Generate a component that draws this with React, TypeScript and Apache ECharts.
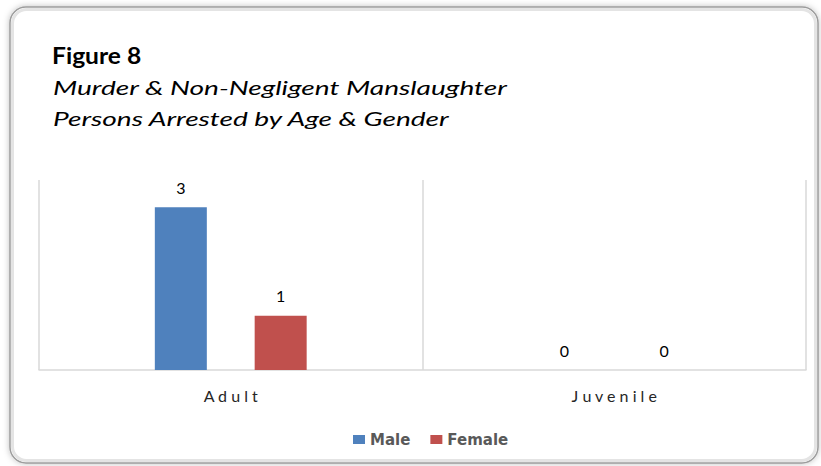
import React, { useEffect, useRef } from "react";
import * as echarts from "echarts";

const categories = ["Adult", "Juvenile"];
const maleValues = [3, 0];
const femaleValues = [1, 0];
const seriesNames = ["Male", "Female"];
const titleText = "Figure 8";
const subtitleLines = ["Murder & Non-Negligent Manslaughter", "Persons Arrested by Age & Gender"];

export default function App() {
  const ref = useRef<HTMLDivElement>(null);
  useEffect(() => {
    if (!ref.current) return;
    const chart = echarts.init(ref.current, null, { renderer: "svg" });
    const font = "Lato, 'Open Sans', sans-serif";
    const subStyle = {
      fontFamily: font,
      fontStyle: "italic",
      fontSize: 20,
      fill: "#000000",
    };
    chart.setOption({
      animation: false,
      backgroundColor: "#ffffff",
      graphic: [
        {
          type: "rect",
          z: -10,
          shape: { x: 10, y: 7, width: 808, height: 456, r: 16 },
          style: {
            fill: "#ffffff",
            stroke: "#9c9c9c",
            lineWidth: 1.5,
            shadowBlur: 6,
            shadowColor: "rgba(0,0,0,0.25)",
          },
        },
        {
          type: "rect",
          z: -9,
          shape: { x: 12.5, y: 9.5, width: 803, height: 451, r: 14 },
          style: { fill: "none", stroke: "#e4e4e4", lineWidth: 3 },
        },
        {
          type: "text",
          x: 52,
          y: 43,
          scaleX: 1.07,
          style: {
            text: titleText,
            fontFamily: font,
            fontWeight: "bold",
            fontSize: 23,
            fill: "#000000",
          },
        },
        {
          type: "text",
          x: 53,
          y: 77.5,
          scaleX: 1.405,
          style: { ...subStyle, text: subtitleLines[0] },
        },
        {
          type: "text",
          x: 53,
          y: 108.5,
          scaleX: 1.405,
          style: { ...subStyle, text: subtitleLines[1] },
        },
      ],
      legend: {
        data: seriesNames,
        top: 427,
        left: 348,
        icon: "rect",
        itemWidth: 12,
        itemHeight: 9,
        itemGap: 20,
        textStyle: { fontFamily: "'DejaVu Sans', sans-serif", fontWeight: "bold", fontSize: 15, color: "#595959" },
      },
      grid: { left: 39, right: 15, top: 180, bottom: 96, containLabel: false },
      xAxis: {
        type: "category",
        data: categories,
        axisLine: { lineStyle: { color: "#d9d9d9", width: 1.5 } },
        axisTick: { show: false },
        splitLine: { show: true, interval: 0, lineStyle: { color: "#d9d9d9", width: 1.5 } },
        axisLabel: {
          fontFamily: font,
          fontSize: 16,
          color: "#262626",
          margin: 17,
          formatter: (v: string) => v.split("").join(" "),
        },
      },
      yAxis: {
        type: "value",
        min: 0,
        max: 3.5,
        interval: 0.5,
        show: false,
        splitLine: { show: false },
      },
      series: [
        {
          name: seriesNames[0],
          type: "bar",
          data: maleValues,
          barWidth: 52,
          barGap: "92%",
          itemStyle: { color: "#4f81bd" },
          label: { show: true, position: "top", distance: 12, fontFamily: font, fontSize: 16, color: "#000000" },
        },
        {
          name: seriesNames[1],
          type: "bar",
          data: femaleValues,
          barWidth: 52,
          itemStyle: { color: "#c0504d" },
          label: { show: true, position: "top", distance: 12, fontFamily: font, fontSize: 16, color: "#000000" },
        },
      ],
    });
    return () => chart.dispose();
  }, []);
  return (
    <div
      ref={ref}
      style={{ position: "absolute", left: 0, top: 0, width: 821, height: 466 }}
    />
  );
}
